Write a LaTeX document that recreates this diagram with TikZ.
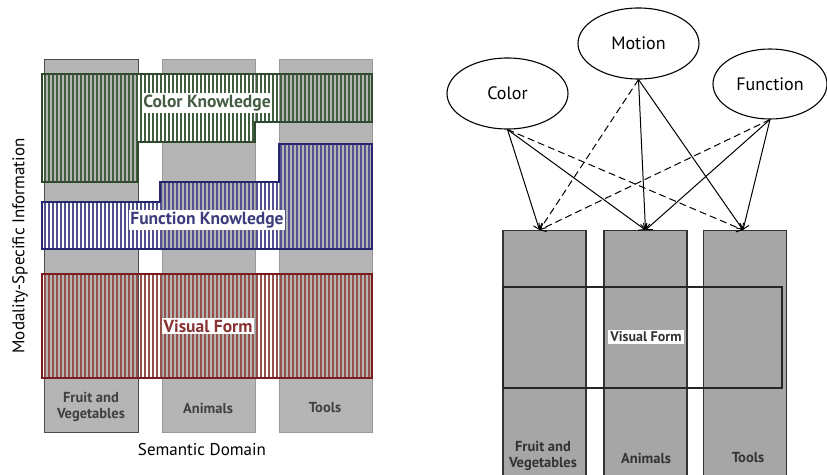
\documentclass[tikz,border=0pt]{standalone}
\usepackage{fontspec}
\setmainfont{PT Sans}
\usetikzlibrary{arrows.meta,shapes.geometric}

\definecolor{colgray}{HTML}{B5B5B5}
\definecolor{boxgray}{HTML}{A6A6A6}
\definecolor{clrline}{HTML}{2F4A2F}
\definecolor{clrhatch}{HTML}{3E5E3E}
\definecolor{fnline}{HTML}{26266E}
\definecolor{fnhatch}{HTML}{52528E}
\definecolor{vfline}{HTML}{7B1C1C}
\definecolor{vfhatch}{HTML}{96504A}

\begin{document}
\begin{tikzpicture}[
  x=1pt, y=-1pt,
  font=\fontsize{12}{13}\selectfont,
  column/.style={fill=colgray, draw=black!40, line width=1pt},
  band/.style={line width=2.6pt, line join=miter},
  hatch/.style={line width=1.4pt},
  bandlab/.style={fill=white, inner sep=1.5pt, font=\fontsize{17.5}{18}\selectfont\bfseries},
  domlab/.style={text=black!75, align=center, font=\fontsize{14.5}{16}\selectfont\bfseries},
  concept/.style={ellipse, draw, line width=1.1pt, inner sep=0pt,
                  minimum width=121pt, minimum height=71pt,
                  font=\fontsize{18}{19}\selectfont},
  dombox/.style={rectangle, fill=boxgray, draw=black!80, line width=1.3pt,
                 minimum width=83pt, minimum height=250pt, inner sep=0pt},
  link/.style={line width=1pt, -{Straight Barb[length=5pt, width=9pt]}},
  weak/.style={link, dash pattern=on 7pt off 4pt}
]
\useasboundingbox (0,0) rectangle (827,474);

% ---------------- left: semantic domains ----------------
\draw[column, draw=black!70] (44,59) rectangle (138,432);
\draw[column] (162,59) rectangle (255,432);
\draw[column] (279,59) rectangle (372,432);

% color knowledge, weak over animals
\fill[white] (138,74) rectangle (255,142);
\begin{scope}
  \clip (42,74) -- (372,74) -- (372,122) -- (255,122) -- (255,142) -- (138,142)
        -- (138,182) -- (42,182) -- cycle;
  \foreach \x in {45,49,...,372} \draw[hatch, clrhatch] (\x,70) -- (\x,190);
\end{scope}
\draw[band, clrline] (42,74) -- (372,74) -- (372,122) -- (255,122) -- (255,142)
  -- (138,142) -- (138,182) -- (42,182) -- cycle;

% function knowledge, weak over fruit
\fill[white] (42,202) rectangle (162,249);
\begin{scope}
  \clip (42,202) -- (160,202) -- (160,182) -- (279,182) -- (279,144) -- (372,144)
        -- (372,249) -- (42,249) -- cycle;
  \foreach \x in {45,49,...,372} \draw[hatch, fnhatch] (\x,140) -- (\x,255);
\end{scope}
\draw[band, fnline] (42,202) -- (160,202) -- (160,182) -- (279,182) -- (279,144)
  -- (372,144) -- (372,249) -- (42,249) -- cycle;

% visual form
\begin{scope}
  \clip (42,274) rectangle (372,378);
  \foreach \x in {45,49,...,372} \draw[hatch, vfhatch, line width=1.3pt] (\x,270) -- (\x,382);
\end{scope}
\draw[band, vfline] (42,274) rectangle (372,378);

\node[bandlab, text=clrline!90] (colorlab) at (207,103) {Color Knowledge};
\node[bandlab, text=fnline!90] (funclab) at (207,220) {Function Knowledge};
\node[bandlab, text=vfline!90] (formlab) at (208,326) {Visual Form};

\node[domlab] (fruit) at (91,407) {Fruit and\\Vegetables};
\node[domlab] (animals) at (208,408) {Animals};
\node[domlab] (tools) at (325,408) {Tools};

\node[font=\fontsize{17}{18}\selectfont] (xaxis) at (202,450) {Semantic Domain};
\node[rotate=90, font=\fontsize{17}{18}\selectfont] (yaxis) at (20,246)
  {Modality-Specific Information};

% ---------------- right: property network ----------------
\node[dombox, anchor=north] (fvbox) at (544.5,230) {};
\node[dombox, anchor=north] (anbox) at (645.5,230) {};
\node[dombox, anchor=north] (tobox) at (745,230) {};
\draw[line width=1.5pt, draw=black!85] (503,287) rectangle (782,388);
\node[fill=white, inner sep=2pt, font=\fontsize{14}{15}\selectfont\bfseries, text=black!80]
  (vform) at (646,337) {Visual Form};

\node[domlab, text=black!80] (fvlab) at (543,456) {Fruit and\\Vegetables};
\node[domlab, text=black!80] (anlab) at (646,458) {Animals};
\node[domlab, text=black!80] (tolab) at (748,458) {Tools};

\node[concept] (color) at (507.5,93.5) {Color};
\node[concept] (motion) at (638.5,43.5) {Motion};
\node[concept, minimum width=114pt, minimum height=70pt] (function) at (770,84) {Function};

\draw[link] (color.south) -- ([xshift=-5pt]fvbox.north);
\draw[link] (color.south) -- (anbox.north);
\draw[weak] (color.south) -- ([xshift=-2pt]tobox.north);
\draw[weak] (motion.south) -- ([xshift=-5pt]fvbox.north);
\draw[link] (motion.south) -- (anbox.north);
\draw[link] (motion.south) -- ([xshift=-2pt]tobox.north);
\draw[weak] (function.south) -- ([xshift=-5pt]fvbox.north);
\draw[link] (function.south) -- (anbox.north);
\draw[link] (function.south) -- ([xshift=-2pt]tobox.north);

\end{tikzpicture}
\end{document}
